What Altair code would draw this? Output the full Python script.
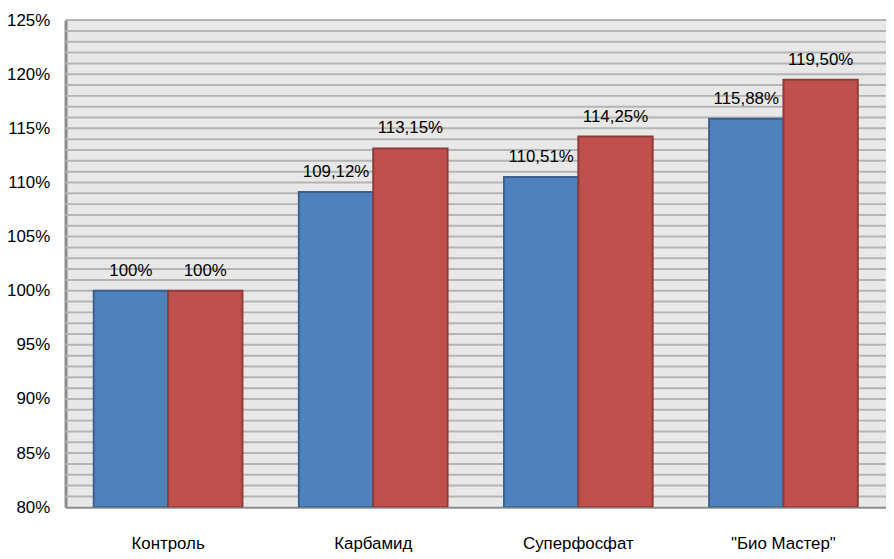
import altair as alt
import pandas as pd

categories = ["Контроль", "Карбамид", "Суперфосфат", "\"Био Мастер\""]
series_a = [100.0, 109.12, 110.51, 115.88]
series_b = [100.0, 113.15, 114.25, 119.50]
series_names = ["A", "B"]
colors = ["#4F81BD", "#C0504D"]
strokes = ["#3A6190", "#8E3B39"]
tick_values = [80, 85, 90, 95, 100, 105, 110, 115, 120, 125]
grid_values = list(range(81, 126))


def fmt(v):
    if abs(v - round(v)) < 1e-9:
        return f"{int(round(v))}%"
    return f"{v:.2f}".replace(".", ",") + "%"


rows = []
for i, c in enumerate(categories):
    for s, vals in zip(series_names, [series_a, series_b]):
        rows.append({"cat": c, "series": s, "value": vals[i], "label": fmt(vals[i])})
df = pd.DataFrame(rows)
grid_df = pd.DataFrame({"g": grid_values})

FONT = "Liberation Sans"

yscale = alt.Scale(domain=[80, 125], nice=False, zero=False)
yaxis = alt.Axis(values=tick_values, labelExpr="datum.value + '%'",
                 labelOverlap=False, labelFontSize=17, labelFont=FONT, labelColor="#000000",
                 labelPadding=16, ticks=False, domainColor="#8c8c8c", domainWidth=3,
                 grid=False)

x = alt.X("cat:N", sort=categories, title=None,
          scale=alt.Scale(paddingInner=0.275, paddingOuter=0.1375),
          axis=alt.Axis(labelAngle=0, labelFontSize=17, labelFont=FONT, labelColor="#000000",
                        labelPadding=29, ticks=False, domainColor="#8c8c8c", domainWidth=2))
xo = alt.XOffset("series:N", sort=series_names, scale=alt.Scale(paddingInner=0, paddingOuter=0))

grid = alt.Chart(grid_df).mark_rule(color="#b4b4b4", strokeWidth=2).encode(
    y=alt.Y("g:Q", scale=yscale, axis=yaxis, title=None)
)

bars = alt.Chart(df).mark_bar(strokeWidth=2, clip=True).encode(
    x=x, xOffset=xo,
    y=alt.Y("value:Q", scale=yscale, axis=yaxis, title=None), y2=alt.datum(80),
    color=alt.Color("series:N", scale=alt.Scale(domain=series_names, range=colors), legend=None),
    stroke=alt.Stroke("series:N", scale=alt.Scale(domain=series_names, range=strokes), legend=None),
)

labels = alt.Chart(df).mark_text(baseline="bottom", dy=-11, fontSize=17, font=FONT, color="#000000").encode(
    x=alt.X("cat:N", sort=categories), xOffset=xo, y=alt.Y("value:Q"), text="label:N"
)

chart = alt.layer(grid, bars, labels).properties(
    width=827, height=491,
    autosize=alt.AutoSizeParams(type="none"),
    padding={"left": 58, "top": 10, "right": 0, "bottom": 50},
    background="#ffffff",
).configure_view(fill="#e8e8e8", stroke=None)

chart.save("out.html", embed_options={"renderer": "svg", "actions": False})
